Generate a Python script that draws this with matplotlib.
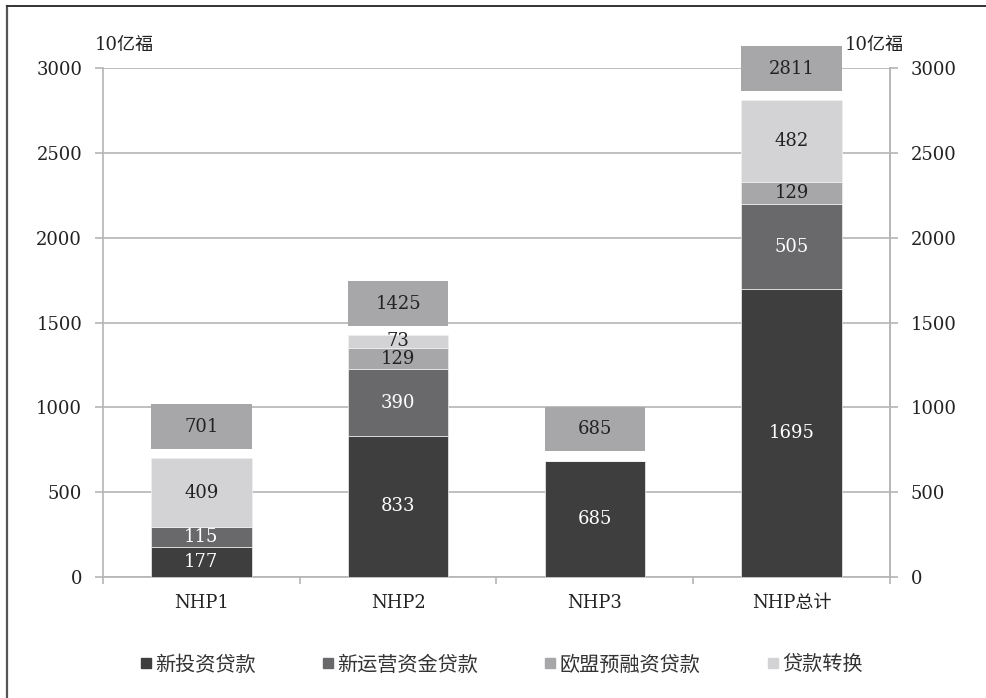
import matplotlib
matplotlib.use("Agg")
from matplotlib import pyplot as plt
from matplotlib.lines import Line2D
import numpy as np

categories = ["NHP1", "NHP2", "NHP3", "NHP总计"]
series_names = ["新投资贷款", "新运营资金贷款", "欧盟预融资贷款", "贷款转换"]
new_investment = [177, 833, 685, 1695]
new_working = [115, 390, 0, 505]
eu_prefinance = [0, 129, 0, 129]
conversion = [409, 73, 0, 482]
totals = [701, 1425, 685, 2811]
yticks = [0, 500, 1000, 1500, 2000, 2500, 3000]

colors = ["#3e3e3f", "#69696c", "#a7a7aa", "#d3d3d5"]
text_colors = ["white", "white", "#222222", "#222222"]
box_color = "#a7a7aa"
fam = ["DejaVu Serif", "Noto Sans CJK SC"]
plt.rcParams["font.family"] = fam

fig = plt.figure(figsize=(9.87, 6.98), dpi=100)
ax = fig.add_axes([103 / 987, 1 - 577 / 698, 787 / 987, 509 / 698])

x = np.arange(len(categories))
w = 0.51
bottom = np.zeros(len(categories))
for vals, c, tc in zip([new_investment, new_working, eu_prefinance, conversion], colors, text_colors):
    vals = np.array(vals, dtype=float)
    ax.bar(x, vals, w, bottom=bottom, color=c, edgecolor="#f0f0f0", linewidth=0.5, zorder=3)
    for i, v in enumerate(vals):
        if v > 0:
            ax.text(x[i], bottom[i] + v / 2, f"{int(v)}", ha="center", va="center",
                    color=tc, fontsize=13, zorder=4, family=fam)
    bottom += vals

# total boxes sitting just above each stack
gap, box_h = 55, 262
boxes = ax.bar(x, [box_h] * len(x), w, bottom=np.array(totals) + gap, color=box_color, zorder=3)
for b in boxes:
    b.set_clip_on(False)
for i, t in enumerate(totals):
    ax.text(x[i], t + gap + box_h / 2, f"{t}", ha="center", va="center",
            color="#222222", fontsize=13, zorder=4, family=fam, clip_on=False)

ax.set_xlim(-0.5, 3.5)
ax.set_ylim(0, 3000)
ax.set_yticks(yticks)
ax.yaxis.grid(True, color="#b5b5b5", linewidth=1.2, zorder=0)
ax.tick_params(axis="y", length=6, width=1.2, color="#b5b5b5", pad=9, labelsize=13, labelcolor="#222222")
ax.set_xticks(x)
ax.set_xticklabels(categories)
ax.set_xticks(np.arange(-0.5, 4, 1), minor=True)
ax.tick_params(axis="x", which="major", length=0, pad=12, labelsize=13, labelcolor="#222222")
ax.tick_params(axis="x", which="minor", length=5, width=1.2, color="#b5b5b5")
ax.spines["top"].set_visible(False)
for side in ["left", "right", "bottom"]:
    ax.spines[side].set_color("#b5b5b5")
    ax.spines[side].set_linewidth(1.2)

ax2 = ax.twinx()
ax2.set_ylim(0, 3000)
ax2.set_yticks(yticks)
ax2.tick_params(axis="y", length=6, width=1.2, color="#b5b5b5", pad=9, labelsize=13, labelcolor="#222222")
for side in ["top", "left", "bottom"]:
    ax2.spines[side].set_visible(False)
ax2.spines["right"].set_color("#b5b5b5")
ax2.spines["right"].set_linewidth(1.2)
ax.set_zorder(ax2.get_zorder() + 1)
ax.patch.set_visible(False)

fig.text(95 / 987, 1 - 45 / 698, "10亿福", fontsize=13, va="center", ha="left", color="#222222")
fig.text(845 / 987, 1 - 45 / 698, "10亿福", fontsize=13, va="center", ha="left", color="#222222")

handles = [Line2D([], [], marker="s", linestyle="none", markersize=7.5, color=c) for c in colors]
fig.legend(handles, series_names, loc="center", bbox_to_anchor=(501 / 987, 1 - 665 / 698),
           ncol=4, frameon=False, handlelength=0.6, handletextpad=0.15,
           columnspacing=3.3, labelcolor="#333333",
           prop={"family": ["Noto Sans CJK SC", "DejaVu Sans"], "size": 14.5})

# page frame on the left and top
fig.add_artist(Line2D([7.5 / 987, 7.5 / 987], [0, 1 - 6 / 698], color="#555555", linewidth=1.6))
fig.add_artist(Line2D([7.5 / 987, 1], [1 - 6 / 698, 1 - 6 / 698], color="#333333", linewidth=1.4))

fig.savefig("out.png", dpi=100)
